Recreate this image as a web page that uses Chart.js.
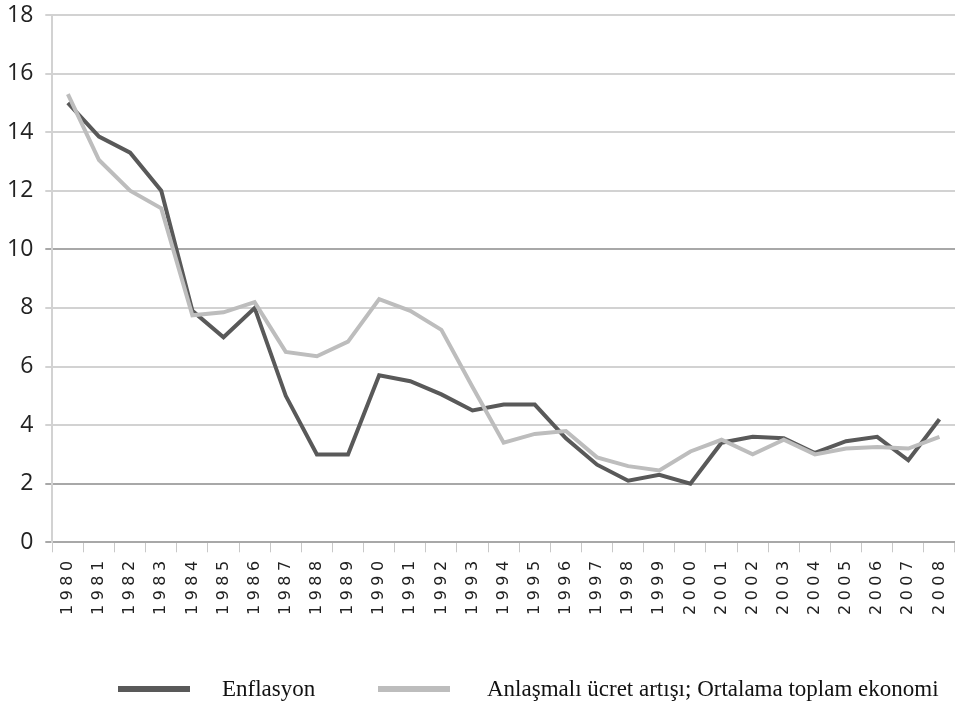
<!DOCTYPE html>
<html>
<head>
<meta charset="utf-8">
<script src="https://cdn.jsdelivr.net/npm/chart.js@4.4.1/dist/chart.umd.min.js"></script>
<style>
  body { margin: 0; background: #fff; }
</style>
</head>
<body>
<canvas id="wageChart" width="955" height="711"></canvas>
<script>
// Yıllar (x ekseni)
const years = ['1980', '1981', '1982', '1983', '1984', '1985', '1986', '1987', '1988', '1989',
               '1990', '1991', '1992', '1993', '1994', '1995', '1996', '1997', '1998', '1999',
               '2000', '2001', '2002', '2003', '2004', '2005', '2006', '2007', '2008'];

// Enflasyon (%)
const inflation = [15.0, 13.85, 13.3, 12.0, 7.9, 7.0, 8.0, 5.0, 3.0, 3.0,
                   5.7, 5.5, 5.05, 4.5, 4.7, 4.7, 3.55, 2.65, 2.1, 2.3,
                   2.0, 3.4, 3.6, 3.55, 3.05, 3.45, 3.6, 2.8, 4.2];

// Anlaşmalı ücret artışı; ortalama toplam ekonomi (%)
const wageGrowth = [15.3, 13.05, 12.0, 11.4, 7.75, 7.85, 8.2, 6.5, 6.35, 6.85,
                    8.3, 7.9, 7.25, 5.3, 3.4, 3.7, 3.8, 2.9, 2.6, 2.45,
                    3.1, 3.5, 3.0, 3.5, 3.0, 3.2, 3.25, 3.2, 3.6];

const seriesNames = ['Enflasyon', 'Anlaşmalı ücret artışı; Ortalama toplam ekonomi'];
const seriesColors = ['#595959', '#bdbdbd'];

const X_SPACING = '4.5px';

// x ekseni etiketleri için harf aralığı (etiketler veri çizgilerinden sonra çizilir)
const xLabelSpacing = {
    id: 'xLabelSpacing',
    beforeDraw(chart) { chart.ctx.letterSpacing = '0px'; },
    afterDatasetsDraw(chart) { chart.ctx.letterSpacing = X_SPACING; },
    afterDraw(chart) { chart.ctx.letterSpacing = '0px'; }
};

// Alt kısımdaki açıklama (legend)
const bottomLegend = {
    id: 'bottomLegend',
    afterDraw(chart) {
        const ctx = chart.ctx;
        const items = [
            { lineX: 118, textX: 222 },
            { lineX: 378, textX: 487 }
        ];
        const y = 689;
        ctx.save();
        ctx.letterSpacing = '0px';
        ctx.font = '23px "Liberation Serif", "Times New Roman", serif';
        ctx.textBaseline = 'middle';
        ctx.fillStyle = '#111';
        chart.data.datasets.forEach((ds, i) => {
            const it = items[i];
            ctx.strokeStyle = ds.borderColor;
            ctx.lineWidth = 6;
            ctx.beginPath();
            ctx.moveTo(it.lineX, y);
            ctx.lineTo(it.lineX + 72, y);
            ctx.stroke();
            ctx.fillText(ds.label, it.textX, y + 1);
        });
        ctx.restore();
    }
};

const ctx = document.getElementById('wageChart').getContext('2d');

new Chart(ctx, {
    type: 'line',
    data: {
        labels: years,
        datasets: [
            {
                label: seriesNames[0],
                data: inflation,
                borderColor: seriesColors[0],
                borderWidth: 4,
                pointRadius: 0,
                tension: 0,
                order: 1
            },
            {
                label: seriesNames[1],
                data: wageGrowth,
                borderColor: seriesColors[1],
                borderWidth: 4,
                pointRadius: 0,
                tension: 0,
                order: 0
            }
        ]
    },
    options: {
        responsive: false,
        animation: false,
        layout: { padding: { top: 15, right: 0, bottom: 92, left: -5 } },
        plugins: {
            legend: { display: false },
            tooltip: { enabled: false }
        },
        scales: {
            x: {
                offset: true,
                beforeUpdate: (scale) => { scale.ctx.letterSpacing = X_SPACING; },
                afterUpdate: (scale) => { scale.ctx.letterSpacing = '0px'; },
                afterFit: (scale) => { scale.paddingLeft = 0; scale.paddingRight = 0; },
                grid: {
                    drawOnChartArea: false,
                    offset: true,
                    tickLength: 10,
                    color: '#c8c8c8',
                    lineWidth: 1
                },
                border: { color: '#a8a8a8', width: 2 },
                ticks: {
                    z: 1,
                    minRotation: 90,
                    maxRotation: 90,
                    autoSkip: false,
                    padding: 4,
                    color: '#222',
                    font: { family: '"DejaVu Sans", Verdana, sans-serif', size: 16 }
                }
            },
            y: {
                min: 0,
                max: 18,
                afterFit: (scale) => { scale.paddingTop = 0; scale.paddingBottom = 0; },
                ticks: {
                    stepSize: 2,
                    padding: 12,
                    color: '#222',
                    font: { family: '"Open Sans", sans-serif', size: 23 }
                },
                grid: {
                    tickLength: 7,
                    lineWidth: 2,
                    color: (c) => (c.tick && (c.tick.value === 10 || c.tick.value === 2 || c.tick.value === 0)) ? '#a8a8a8' : '#d2d2d2'
                },
                border: { color: '#d2d2d2', width: 2 }
            }
        }
    },
    plugins: [xLabelSpacing, bottomLegend]
});
</script>
</body>
</html>
